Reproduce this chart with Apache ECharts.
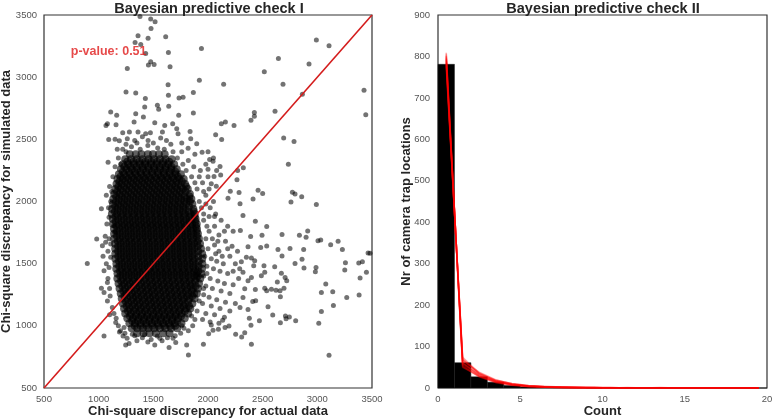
<!DOCTYPE html>
<html><head><meta charset="utf-8">
<script src="https://cdn.jsdelivr.net/npm/echarts@6/dist/echarts.min.js"></script>
<style>html,body{margin:0;padding:0;background:#fff}#c{width:772px;height:420px}</style>
</head><body><div id="c"></div>
<script>
// ---- Panel I: chi-square discrepancies (actual x, simulated y) ----
const sparsePoints = [
[1378,3487],[1476,3468],[1516,3446],[1479,3392],[1360,3333],[1452,3312],[1613,3325],[1333,3279],[1385,3263],[1940,3231],
[1638,3199],[1430,3191],[1476,3123],[1455,3097],[1507,3102],[1262,3070],[1653,3083],[1921,2975],[1635,2940],[1250,2881],
[1339,2873],[1427,2828],[1866,2876],[1638,2854],[1735,2833],[1772,2838],[1421,2760],[1537,2774],[1641,2766],[1549,2741],
[1110,2720],[1866,2712],[1165,2693],[1339,2706],[1409,2680],[1732,2693],[1080,2626],[1067,2612],[1159,2618],[1324,2639],
[1513,2634],[1604,2612],[1677,2626],[1714,2585],[1220,2553],[1281,2559],[1360,2559],[1430,2545],[1473,2553],[1583,2559],
[1726,2545],[1836,2564],[1092,2499],[1189,2489],[1262,2505],[1330,2491],[1452,2491],[1567,2510],[1842,2505],[1897,2464],
[1818,2429],[1946,2397],[1086,2316],
[2991,3298],[3107,3253],[2644,3150],[2924,3105],[2515,3043],[2143,2943],[2686,2943],[2863,2862],[3427,2895],[3443,2698],
[2424,2715],[2424,2685],[2393,2653],[2613,2725],[2159,2639],[2122,2626],[2238,2612],[2070,2537],[2125,2499],[2692,2510],
[2787,2483],[2735,2300],[2015,2338],[2046,2324],[2110,2281],[2079,2249],[2116,2214],[2055,2201],[2323,2271],[2271,2249],
[2265,2174],[2030,2142],[2076,2123],[2204,2082],[2284,2072],[2458,2090],[2500,2064],[2772,2074],[2796,2061],[2857,2039],
[2183,2026],[2412,2021],
[2293,1981],[2759,1995],[2991,1976],[2320,1887],[2433,1841],[2537,1798],[2296,1766],[2677,1734],[2836,1728],[2912,1763],
[2897,1712],[2390,1718],[2494,1728],[3006,1685],[3031,1691],[3122,1653],[3190,1680],[3229,1613],[3464,1586],[3482,1583],
[2537,1642],[2482,1631],[2640,1613],[2750,1621],[2875,1613],[2677,1561],[2796,1502],[2860,1535],[2878,1465],[2988,1470],
[2982,1435],[3257,1508],[3251,1449],[3379,1505],[3412,1516],[3449,1430],[3391,1384],[2610,1475],[2519,1430],[2488,1403],
[2671,1422],[2705,1389],[2720,1362],[2634,1352],[2580,1295],[2622,1287],[2659,1282],[2695,1303],[2662,1233],[2519,1303],
[2537,1282],[3077,1336],[3037,1268],[3141,1274],[3269,1228],[3382,1247],[3147,1163],[3037,1115],[3013,1021],[3107,763],
[2436,1201],[2549,1153],[2592,1088],[2708,1080],[2744,1072],[2714,1056],[2802,1040],[2662,1024],[2470,1040],[2393,1005],
[2378,1061],[2397,851],[2336,945],[2308,910],[2253,932],[2192,999],[2156,986],[2095,972],[2046,964],[2006,937],
[2030,1007],[2134,1045],[2366,1131],[2293,1147],[2409,1196],[2320,1228],[2336,1298],[2433,1292],[2366,1362],[2397,1389],
[2320,1430],[2512,1483],[2427,1524],[2397,1545],[2351,1551],[2305,1516],[2366,1637],[2418,1483],
[896,1502],[982,1699],[1025,1941],[1049,919],[1247,846],[1278,857],[1513,846],[1644,825],[1821,765],[1805,846],
[1958,851],[1025,1303],[1049,1268],[1080,1349],[1049,1443],[1064,1672],[1110,1658],[1034,1645],[1140,1806],[1095,1874],
[1147,1752],[1110,1551],[1095,1470],[1125,1147],[1156,1026],[1232,986],[1223,919],[1308,932],[1400,905],[1537,919],
[1629,905],[1705,865],
[1080,1200],[1100,1090],[1180,1000],[1190,950],[1260,900],[1350,880],[1450,870],[1580,880],[1680,900],[1750,940],
[1780,980],[1860,1000],[1880,1050],[1090,1950],[1070,2050],[1100,2120],[1130,2200],[1150,2280],[1180,2350],[1220,2420],
[1300,2440],[1380,2420],[1450,2450],[1540,2430],[1600,2420],[1680,2400],[1720,2350],[1770,2300],[1800,2250],[1850,2200],
[1880,2150],[1900,2100],[1920,2000],[1940,1950],[1960,1900],
[1960,1850],[1990,1800],[2010,1760],[2040,1700],[1980,1700],[2060,1650],[2000,1620],[2100,1600],[1970,1560],[2030,1540],
[2080,1520],[2140,1500],[1990,1480],[2050,1460],[2110,1440],[2180,1420],[1960,1400],[2020,1380],[2090,1360],[2150,1340],
[2230,1330],[1980,1320],[2040,1300],[2120,1280],[2200,1260],[1960,1250],[2010,1230],[2080,1210],[2160,1190],[2250,1180],
[1950,1180],[2030,1160],[2110,1140],[2200,1120],[1980,1100],[2060,1090],[2150,1070],[1950,1050],[2020,1030],[2100,1020],
[1980,2050],[2020,1950],[2070,1900],[2120,1850],[2180,1800],[2230,1760],[2100,1730],[2160,1680],[2220,1640],[2270,1600],
[2200,1560],[2250,1500],[2290,1460],[2230,1440],[2280,1380],[2060,1880],[2010,2100],[2050,2000],[1950,2150],[2000,2200],
[1980,2300],[1930,2250],[2000,2260],
[1040,1560],[1060,1720],[1075,1820],[1085,1380],[1100,1300],[1105,1240],[1070,1500],[1085,1600],[1110,2000],[1120,2080],
[1095,1700],[1140,1100],[1160,1060],[1200,960],[1240,940],[1330,920],[1420,930],[1480,890],[1560,900],[1700,920],
[1760,1000],[1820,960],[1850,1080],[1900,1120],[1920,1200],[1960,1300],[1990,1420],[2070,1580],[2130,1560],[2180,1620],
[2090,1680],[2150,1760],[2060,1800],[2010,1880],[1980,1980],[1960,2080],[1920,2200],[1870,2280],[1820,2330],[1760,2400],
[1660,2460],[1500,2470],[1350,2470],[1250,2400],[1200,2300],[1170,2420],[1150,2500],[1250,2460],[1400,2520],[1620,2490],
[1760,2470],[1880,2380],[2000,2400],[2050,2350]
];
// dense core, row by row: [simulated value, actual values...]
const coreRows = [
[2380,1285,1340,1392,1450,1497,1551,1604],
[2340,1243,1296,1348,1401,1455,1506,1560,1612,1668],
[2320,1262,1318,1372,1426,1480,1533,1590,1644],
[2300,1222,1270,1322,1377,1425,1478,1530,1583,1636,1690],
[2280,1236,1290,1346,1400,1452,1505,1558,1612,1665],
[2260,1204,1255,1303,1352,1406,1458,1509,1561,1610,1664,1714],
[2240,1222,1278,1330,1382,1434,1488,1540,1594,1648,1700],
[2220,1185,1233,1285,1338,1389,1440,1492,1546,1597,1650,1703,1752],
[2200,1200,1252,1304,1356,1410,1462,1516,1568,1620,1672,1724],
[2180,1172,1221,1270,1322,1375,1425,1478,1530,1583,1634,1686,1737,1778],
[2160,1190,1242,1294,1346,1398,1450,1502,1554,1606,1658,1710,1760],
[2140,1163,1210,1262,1314,1365,1417,1468,1520,1572,1623,1675,1726,1790],
[2120,1180,1232,1284,1336,1388,1440,1492,1544,1596,1648,1700,1752,1800],
[2100,1152,1201,1253,1305,1356,1408,1460,1512,1563,1615,1667,1718,1770,1815],
[2080,1170,1222,1274,1326,1378,1430,1482,1534,1586,1638,1690,1742,1794],
[2060,1143,1192,1244,1296,1348,1399,1451,1503,1555,1606,1658,1710,1762,1834],
[2040,1160,1212,1264,1316,1368,1420,1472,1524,1576,1628,1680,1732,1784,1830],
[2020,1134,1185,1236,1288,1340,1392,1443,1495,1547,1598,1650,1702,1754,1805,1848],
[2000,1158,1210,1262,1314,1366,1418,1470,1522,1574,1626,1678,1730,1782,1834],
[1980,1131,1180,1231,1282,1334,1385,1437,1489,1540,1592,1644,1696,1747,1799,1857],
[1960,1150,1202,1254,1306,1358,1410,1462,1514,1566,1618,1670,1722,1774,1826],
[1940,1123,1174,1226,1277,1329,1380,1432,1484,1535,1587,1639,1690,1742,1794,1866],
[1920,1148,1200,1252,1304,1356,1408,1460,1512,1564,1616,1668,1720,1772,1824,1870],
[1900,1121,1170,1222,1273,1325,1377,1428,1480,1532,1583,1635,1687,1738,1790,1842,1878],
[1880,1154,1206,1258,1310,1362,1414,1466,1518,1570,1622,1674,1726,1778,1830,1878],
[1860,1129,1178,1230,1281,1333,1385,1436,1488,1540,1591,1643,1695,1746,1798,1850,1887],
[1840,1156,1208,1260,1312,1364,1416,1468,1520,1572,1624,1676,1728,1780,1832,1884],
[1820,1131,1183,1235,1287,1338,1390,1442,1493,1545,1597,1648,1700,1752,1803,1855,1897],
[1800,1164,1216,1268,1320,1372,1424,1476,1528,1580,1632,1684,1736,1788,1840,1890],
[1780,1140,1190,1242,1294,1345,1397,1449,1500,1552,1604,1655,1707,1759,1810,1862,1899],
[1760,1168,1220,1272,1324,1376,1428,1480,1532,1584,1636,1688,1740,1792,1844,1896],
[1740,1141,1193,1245,1296,1348,1400,1451,1503,1555,1606,1658,1710,1761,1813,1865,1908],
[1720,1168,1220,1272,1324,1376,1428,1480,1532,1584,1636,1688,1740,1792,1844,1898],
[1700,1142,1194,1246,1297,1349,1401,1452,1504,1556,1607,1659,1711,1762,1814,1866,1917],
[1680,1176,1228,1280,1332,1384,1436,1488,1540,1592,1644,1696,1748,1800,1852,1904],
[1660,1150,1201,1253,1304,1356,1408,1459,1511,1563,1614,1666,1718,1769,1821,1873,1927],
[1640,1178,1230,1282,1334,1386,1438,1490,1542,1594,1646,1698,1750,1802,1854,1906],
[1620,1151,1203,1255,1306,1358,1410,1461,1513,1565,1616,1668,1720,1771,1823,1875,1936],
[1600,1178,1230,1282,1334,1386,1438,1490,1542,1594,1646,1698,1750,1802,1854,1910],
[1580,1152,1204,1256,1307,1359,1411,1462,1514,1566,1617,1669,1721,1772,1824,1876,1946],
[1560,1180,1232,1284,1336,1388,1440,1492,1544,1596,1648,1700,1752,1804,1856,1912],
[1540,1153,1205,1257,1308,1360,1412,1463,1515,1567,1618,1670,1722,1773,1825,1877,1947],
[1520,1186,1238,1290,1342,1394,1446,1498,1550,1602,1654,1706,1758,1810,1862,1916],
[1500,1162,1213,1265,1316,1368,1420,1471,1523,1575,1626,1678,1730,1781,1833,1885,1948],
[1480,1188,1240,1292,1344,1396,1448,1500,1552,1604,1656,1708,1760,1812,1864,1914],
[1460,1161,1212,1264,1315,1367,1419,1470,1522,1574,1625,1677,1729,1780,1832,1884,1945],
[1440,1196,1248,1300,1352,1404,1456,1508,1560,1612,1664,1716,1768,1820,1872,1910],
[1420,1172,1223,1275,1326,1378,1430,1481,1533,1585,1636,1688,1740,1791,1843,1895,1938],
[1400,1198,1250,1302,1354,1406,1458,1510,1562,1614,1666,1718,1770,1822,1874,1906],
[1380,1171,1222,1274,1325,1377,1429,1480,1532,1584,1635,1687,1739,1790,1842,1894,1929],
[1360,1206,1258,1310,1362,1414,1466,1518,1570,1622,1674,1726,1778,1830,1882],
[1340,1182,1233,1285,1336,1388,1440,1491,1543,1595,1646,1698,1750,1801,1853,1918],
[1320,1216,1268,1320,1372,1424,1476,1528,1580,1632,1684,1736,1788,1840,1886],
[1300,1191,1242,1294,1345,1397,1449,1500,1552,1604,1655,1707,1759,1810,1862,1908],
[1280,1226,1278,1330,1382,1434,1486,1538,1590,1642,1694,1746,1798,1850],
[1260,1202,1253,1305,1356,1408,1460,1511,1563,1615,1666,1718,1770,1821,1873,1898],
[1240,1236,1288,1340,1392,1444,1496,1548,1600,1652,1704,1756,1808,1856],
[1220,1211,1262,1314,1365,1417,1469,1520,1572,1624,1675,1727,1779,1830,1877],
[1200,1246,1298,1350,1402,1454,1506,1558,1610,1662,1714,1766,1818],
[1180,1222,1273,1325,1376,1428,1480,1531,1583,1635,1686,1738,1790,1857],
[1160,1256,1308,1360,1412,1464,1516,1568,1620,1672,1724,1776,1826],
[1140,1232,1283,1335,1386,1438,1490,1541,1593,1645,1696,1748,1800,1838],
[1120,1268,1320,1372,1424,1476,1528,1580,1632,1684,1736,1788],
[1100,1243,1294,1346,1397,1449,1501,1552,1604,1656,1707,1759,1818],
[1080,1286,1338,1390,1442,1494,1546,1598,1650,1702,1754],
[1060,1262,1313,1365,1416,1468,1520,1571,1623,1675,1726,1787],
[1040,1306,1358,1410,1462,1514,1566,1618,1670,1722],
[1020,1281,1332,1384,1435,1487,1539,1590,1642,1694,1757],
[1000,1330,1384,1438,1492,1546,1600,1654,1700],
[980,1302,1353,1405,1456,1508,1560,1611,1663,1718],
[940,1352,1410,1466,1523,1590,1648]
];
const identityLine = [[500,500],[3500,3500]];
const pValueText = 'p-value: 0.51';
const pValuePos = [745, 3207];

// ---- Panel II: histogram of counts + posterior predictive curves ----
const binEdges = [0,1,2,3,4,5,6,7,8,9,10,11,12,13,14,15,16,17,18,19,20];
const observedCounts = [781,61,27,14,6,3,2,1,1,0,1,0,0,0,0,0,0,0,0,0];
const binCenters = [0.5,1.5,2.5,3.5,4.5,5.5,6.5,7.5,8.5,9.5,10.5,11.5,12.5,13.5,14.5,15.5,16.5,17.5,18.5,19.5];
const predictive = [
[795,62,30,15,8,4,3,2,1,1,0,1,0,0,0,0,0,0,0,0],
[780,70,34,17,9,5,3,2,1,1,1,0,0,0,0,0,0,0,0,0],
[805,55,28,14,7,4,2,1,1,0,0,0,0,0,0,0,0,0,0,0],
[788,66,38,20,10,6,3,2,2,1,0,0,0,1,0,0,0,0,0,0],
[798,58,31,16,9,5,3,1,1,1,0,0,0,0,0,0,0,0,0,0],
[776,74,36,18,11,6,4,2,1,1,1,0,0,0,0,0,0,0,0,0],
[792,60,33,17,8,5,2,2,1,0,0,0,0,0,0,0,0,0,0,0],
[801,52,27,13,7,3,2,1,0,0,0,0,0,0,0,0,0,0,0,0],
[785,68,35,19,10,5,3,2,1,1,0,0,0,0,0,0,0,0,0,0],
[809,50,29,15,8,4,2,1,1,0,0,0,0,0,0,0,0,0,0,0]
];

const FONT = "'Liberation Sans', Arial, sans-serif";
const corePoints = coreRows.flatMap(r => r.slice(1).map(x => [x, r[0]]));
const histData = observedCounts.map((c, i) => [binEdges[i], binEdges[i + 1], c]);

const labelStyle = {color: '#555', fontSize: 9.5, fontFamily: FONT, formatter: v => String(v)};
const axisCommon = {
  type: 'value', axisLine: {show: false}, axisTick: {show: false}, splitLine: {show: false},
  nameLocation: 'middle', nameMoveOverlap: false,
  nameTextStyle: {color: '#262626', fontSize: 13, fontWeight: 'bold', fontFamily: FONT}
};
const dotStyle = {color: 'rgba(0,0,0,0.55)', opacity: 1};
const coreStyle = {color: 'rgba(0,0,0,0.62)', opacity: 1};

const chart = echarts.init(document.getElementById('c'));
chart.setOption({
  animation: false,
  backgroundColor: '#fff',
  title: [
    {text: 'Bayesian predictive check I', left: 204, top: -4, textAlign: 'center',
     textStyle: {fontSize: 14.5, fontWeight: 'bold', color: '#262626', fontFamily: FONT}},
    {text: 'Bayesian predictive check II', left: 598, top: -4, textAlign: 'center',
     textStyle: {fontSize: 14.5, fontWeight: 'bold', color: '#262626', fontFamily: FONT}}
  ],
  grid: [
    {left: 44, right: 400, top: 15, bottom: 32, show: true, borderColor: '#333', borderWidth: 1.2,
     containLabel: false, outerBoundsMode: 'none'},
    {left: 438, right: 5, top: 15, bottom: 32, show: true, borderColor: '#333', borderWidth: 1.2,
     containLabel: false, outerBoundsMode: 'none'}
  ],
  xAxis: [
    Object.assign({}, axisCommon, {gridIndex: 0, min: 500, max: 3500, interval: 500,
      name: 'Chi-square discrepancy for actual data', nameGap: 17,
      axisLabel: Object.assign({}, labelStyle, {margin: 6})}),
    Object.assign({}, axisCommon, {gridIndex: 1, min: 0, max: 20, interval: 5,
      name: 'Count', nameGap: 17,
      axisLabel: Object.assign({}, labelStyle, {margin: 6})})
  ],
  yAxis: [
    Object.assign({}, axisCommon, {gridIndex: 0, min: 500, max: 3500, interval: 500,
      name: 'Chi-square discrepancy for simulated data', nameGap: 31,
      axisLabel: Object.assign({}, labelStyle, {margin: 7})}),
    Object.assign({}, axisCommon, {gridIndex: 1, min: 0, max: 900, interval: 100,
      name: 'Nr of camera trap locations', nameGap: 25,
      axisLabel: Object.assign({}, labelStyle, {margin: 8})})
  ],
  series: [
    {type: 'scatter', xAxisIndex: 0, yAxisIndex: 0, data: corePoints, symbolSize: 8,
     itemStyle: coreStyle, large: false, silent: true},
    {type: 'scatter', xAxisIndex: 0, yAxisIndex: 0, data: sparsePoints, symbolSize: 5,
     itemStyle: dotStyle, large: false, silent: true},
    {type: 'line', xAxisIndex: 0, yAxisIndex: 0, data: identityLine, symbol: 'none',
     lineStyle: {color: '#d41c1c', width: 1.6}, silent: true},
    {type: 'scatter', xAxisIndex: 0, yAxisIndex: 0, data: [pValuePos], symbolSize: 0,
     label: {show: true, position: 'right', distance: 0, formatter: pValueText,
       color: '#e01b1b', fontSize: 12.5, fontWeight: 'bold', fontFamily: FONT}},
    {type: 'custom', xAxisIndex: 1, yAxisIndex: 1, data: histData, silent: true,
     renderItem: function (params, api) {
       const p0 = api.coord([api.value(0), api.value(2)]);
       const p1 = api.coord([api.value(1), 0]);
       return {type: 'rect', shape: {x: p0[0], y: p0[1], width: p1[0] - p0[0], height: p1[1] - p0[1]},
               style: {fill: '#000', stroke: '#1a1a1a', lineWidth: 0.5}};
     }}
  ].concat(predictive.map(vals => ({
    type: 'line', xAxisIndex: 1, yAxisIndex: 1, symbol: 'none', silent: true,
    data: binCenters.map((x, i) => [x, vals[i]]),
    lineStyle: {color: '#ff0000', width: 1.6, opacity: 0.35}
  })))
});
</script></body></html>
